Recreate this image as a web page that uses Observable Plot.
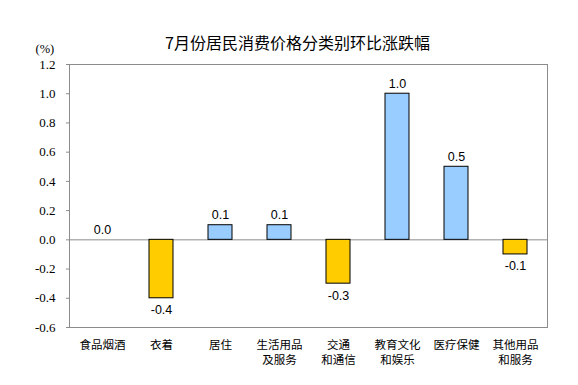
<!DOCTYPE html>
<html>
<head>
<meta charset="utf-8">
<script src="https://cdn.jsdelivr.net/npm/d3@7"></script>
<script src="https://cdn.jsdelivr.net/npm/@observablehq/plot@0.6"></script>
<style>
  body { margin: 0; background: #fff; }
  #chart { position: relative; width: 578px; height: 385px; }
</style>
</head>
<body>
<div id="chart"></div>
<script>
const title = "7月份居民消费价格分类别环比涨跌幅";
const unitLabel = "(%)";
const categories = ["食品烟酒", "衣着", "居住", "生活用品\n及服务", "交通\n和通信", "教育文化\n和娱乐", "医疗保健", "其他用品\n和服务"];
const values = [0.0, -0.4, 0.1, 0.1, -0.3, 1.0, 0.5, -0.1];
const yTicks = [-0.6, -0.4, -0.2, 0.0, 0.2, 0.4, 0.6, 0.8, 1.0, 1.2];

const data = categories.map((c, i) => ({ cat: c, value: values[i] }));
const pos = data.filter(d => d.value >= 0);
const neg = data.filter(d => d.value < 0);
const fmt = d3.formatLocale({ decimal: ".", thousands: ",", grouping: [3], currency: ["", ""], minus: "-" }).format(".1f");

const chart = Plot.plot({
  width: 578,
  height: 385,
  marginLeft: 69,
  marginRight: 31,
  marginTop: 64,
  marginBottom: 58,
  style: { background: "#fff", overflow: "visible" },
  x: { domain: categories, paddingInner: 0.6, paddingOuter: 0.3, align: 0.5, label: null, axis: null },
  y: { domain: [-0.6, 1.2], label: null, axis: null },
  marks: [
    Plot.frame({ stroke: "#8c8c8c", strokeWidth: 1 }),
    Plot.ruleY([0], { stroke: "#8c8c8c", strokeWidth: 1 }),
    Plot.axisY(yTicks, {
      tickSize: 3, tickPadding: 11, tickFormat: fmt, label: null,
      stroke: "#8c8c8c", fill: "#000",
      fontFamily: "Liberation Serif", fontSize: 13
    }),
    Plot.barY(data.filter(d => d.value !== 0), {
      x: "cat", y: "value",
      fill: d => d.value >= 0 ? "#99CCFF" : "#FFCC00",
      stroke: "#000", strokeWidth: 1
    }),
    Plot.text(pos, {
      x: "cat", y: "value", text: d => fmt(d.value), dy: -10,
      fontFamily: "Liberation Sans", fontSize: 12.5, fill: "#000"
    }),
    Plot.text(neg, {
      x: "cat", y: "value", text: d => fmt(d.value), dy: 12,
      fontFamily: "Liberation Sans", fontSize: 12.5, fill: "#000"
    }),
    Plot.text(data, {
      x: "cat", frameAnchor: "bottom", text: "cat", dy: 11,
      lineHeight: 1.3, lineAnchor: "top",
      fontFamily: "Noto Sans CJK SC", fontSize: 11.5, fill: "#000"
    }),
    Plot.text([title], {
      frameAnchor: "top", text: d => d, dy: -27, dx: -11,
      fontFamily: "Noto Sans CJK SC", fontSize: 16, fill: "#000"
    }),
    Plot.text([unitLabel], {
      frameAnchor: "top-left", text: d => d, dx: -34, dy: -20,
      fontFamily: "Liberation Serif", fontSize: 12.5, fill: "#000"
    })
  ]
});
document.getElementById("chart").append(chart);
</script>
</body>
</html>
